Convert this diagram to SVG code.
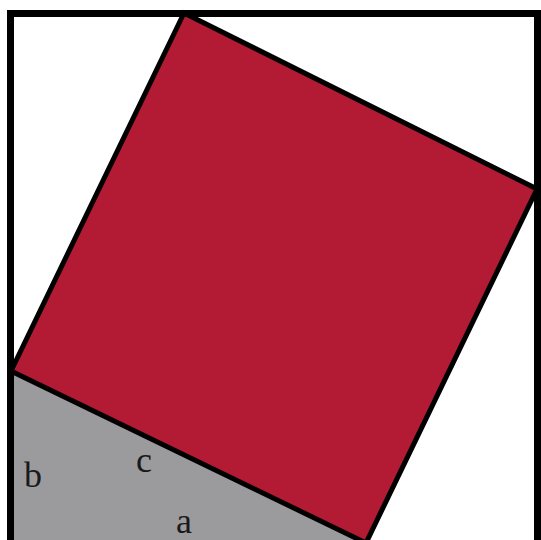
<svg xmlns="http://www.w3.org/2000/svg" width="541" height="540" viewBox="0 0 541 540">
  <style>
    .lbl { font-family: "Liberation Serif", "DejaVu Serif", serif; font-size: 36px; fill: #1a1a1a; }
  </style>
  <rect x="0" y="0" width="541" height="540" fill="#ffffff"/>
  <g id="triangle">
    <polygon points="11,371 366,543 11,543" fill="#9b9b9d"/>
  </g>
  <g id="square">
    <polygon points="184,13 537,189 366,543 11,371" fill="#b31a33" stroke="#000000" stroke-width="5" stroke-linejoin="miter"/>
  </g>
  <g id="frame">
    <rect x="10.5" y="13.5" width="527" height="530" fill="none" stroke="#000000" stroke-width="7"/>
  </g>
  <g id="labels">
    <text class="lbl" x="24" y="487">b</text>
    <text class="lbl" x="136" y="472">c</text>
    <text class="lbl" x="176" y="533">a</text>
  </g>
</svg>
